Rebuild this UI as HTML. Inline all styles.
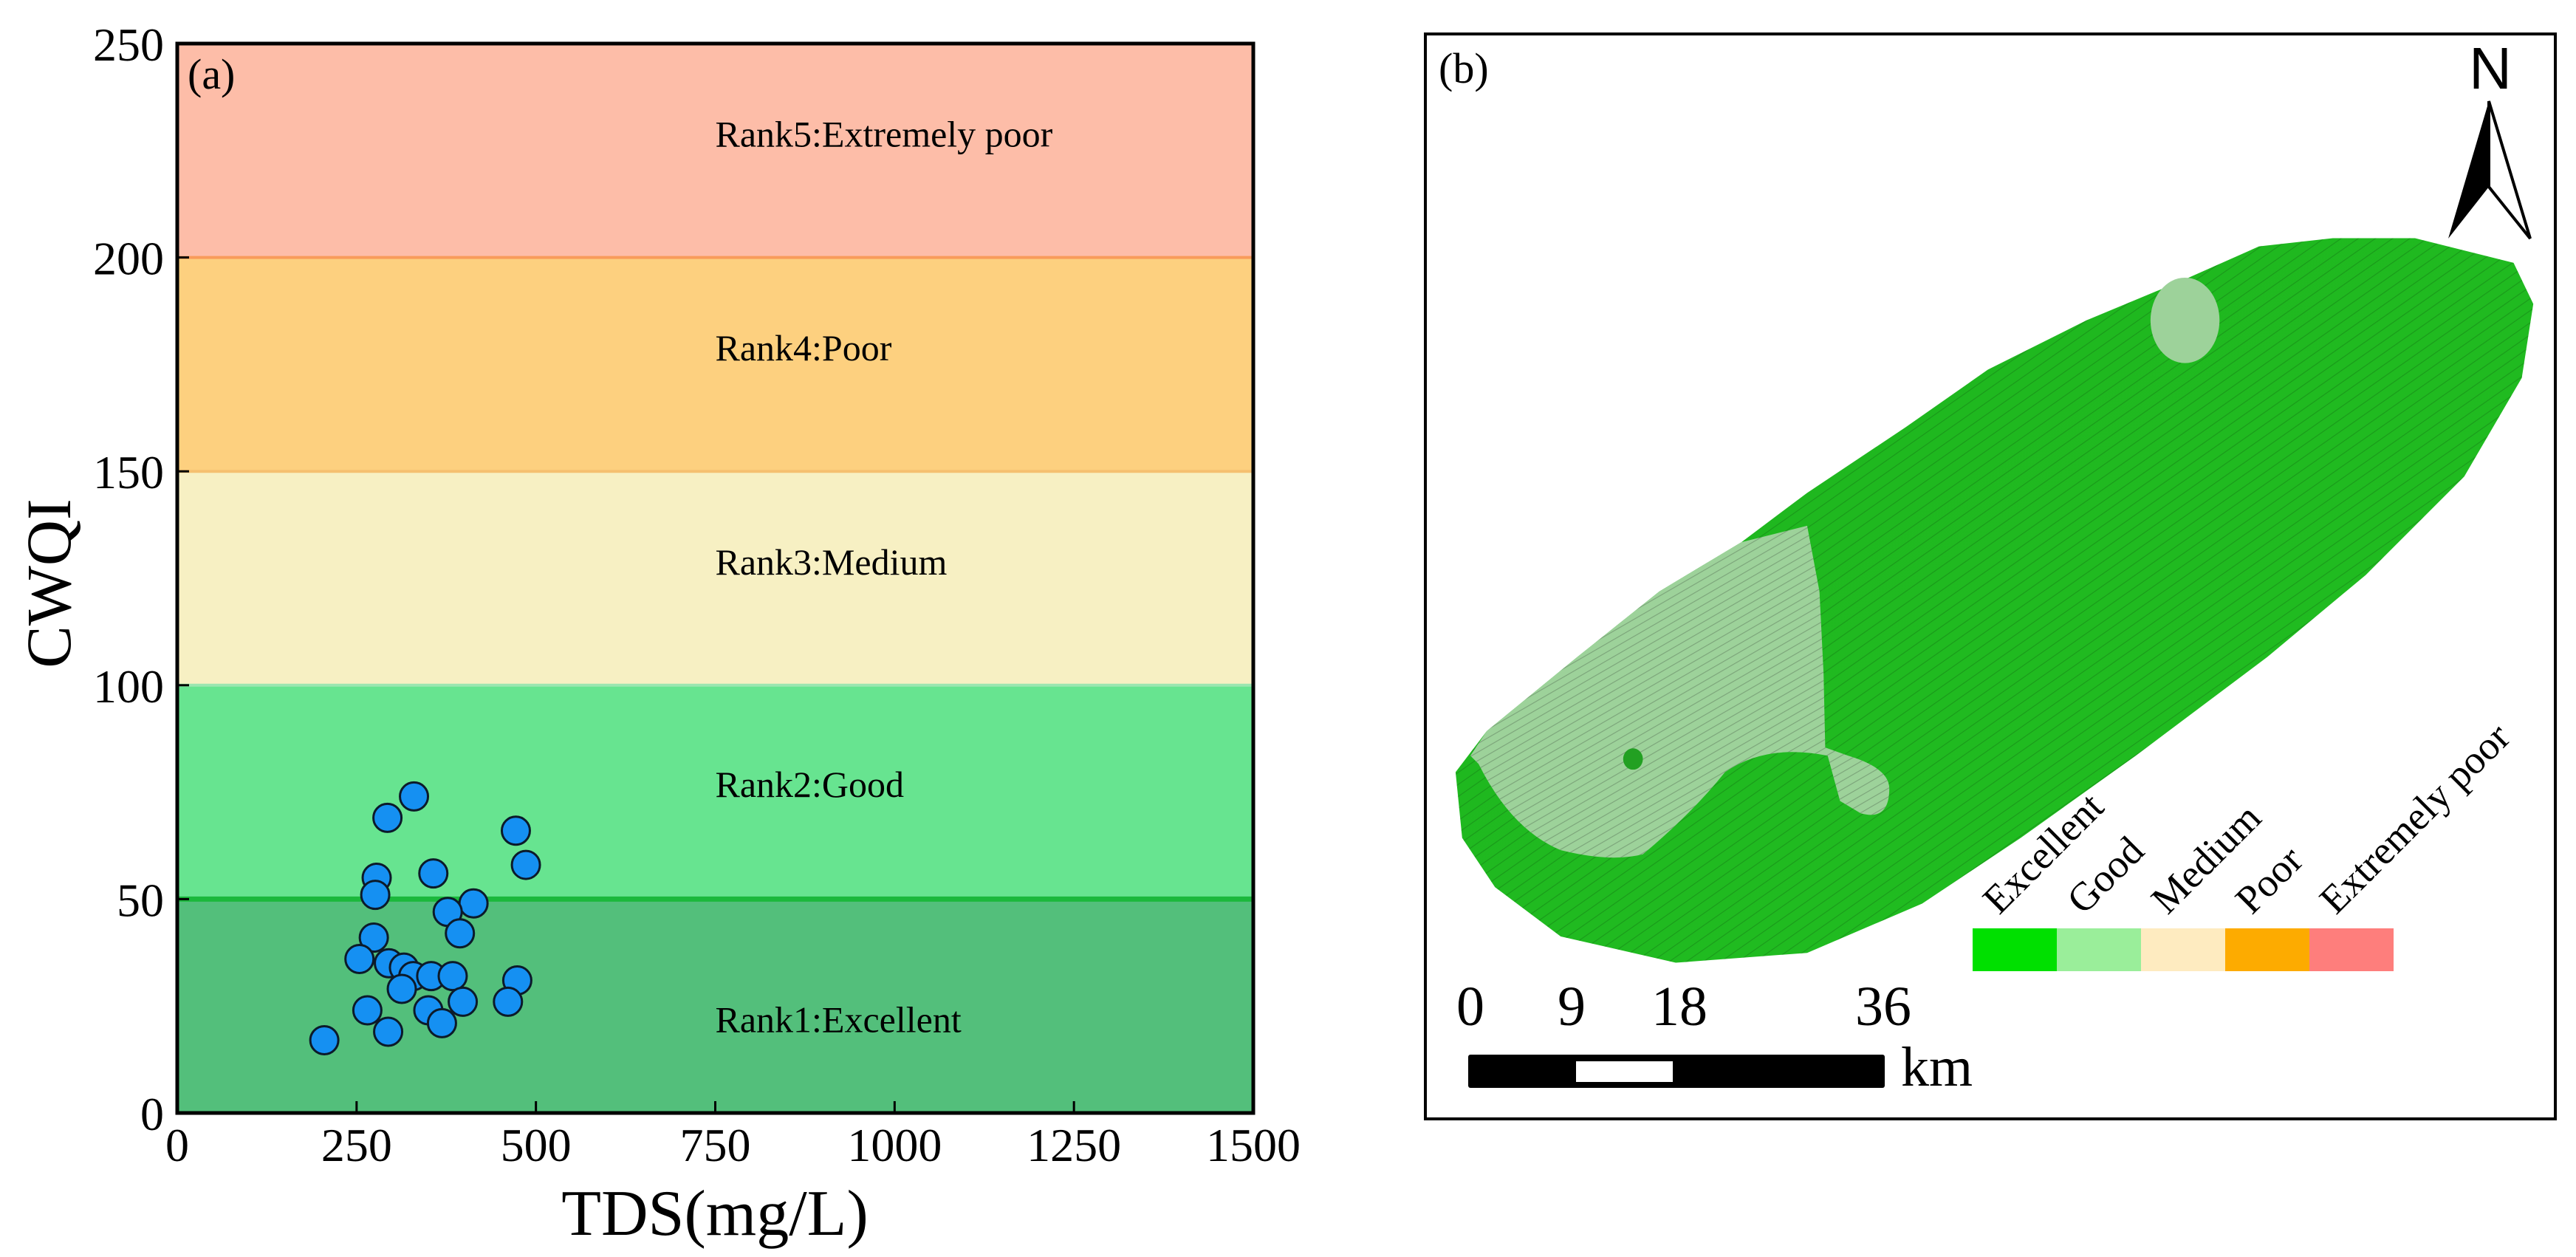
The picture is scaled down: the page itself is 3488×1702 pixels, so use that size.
<!DOCTYPE html>
<html><head><meta charset="utf-8"><style>
html,body{margin:0;padding:0;background:#fff;}
svg{display:block;font-family:"Liberation Serif",serif;}
</style></head><body>
<svg id="fig" width="3488" height="1702" viewBox="0 0 3488 1702" xmlns="http://www.w3.org/2000/svg">
<defs>
  <linearGradient id="mg" x1="0" y1="0" x2="1" y2="1">
    <stop offset="0" stop-color="#139a13"/><stop offset="0.35" stop-color="#1fb81f"/><stop offset="1" stop-color="#22bf22"/>
  </linearGradient>
  <pattern id="tex" width="12" height="12" patternUnits="userSpaceOnUse" patternTransform="rotate(-35)">
    <line x1="0" y1="0" x2="12" y2="0" stroke="#0a4a0a" stroke-width="2" opacity="0.3"/>
  </pattern>
  <pattern id="tex2" width="9" height="9" patternUnits="userSpaceOnUse" patternTransform="rotate(-30)">
    <line x1="0" y1="0" x2="9" y2="0" stroke="#3a4a3a" stroke-width="2" opacity="0.35"/>
  </pattern>
</defs>
<g id="chartA"></g>
<g id="mapB">
  <rect x="1930" y="46" width="1530" height="1469" fill="#fff" stroke="#000" stroke-width="4"/>
  <text x="1948" y="112" font-size="58">(b)</text>
  <g transform="scale(1.11225)">
    <path id="mapShape" fill="url(#mg)"
      d="M1772,940 L1810,890 L1920,800 L2020,720 L2120,660 L2200,600 L2320,520 L2420,450 L2540,390 L2660,340 L2750,300 L2840,290 L2940,290 L3060,320 L3084,370 L3070,460 L3000,580 L2880,700 L2760,800 L2600,920 L2460,1020 L2340,1100 L2200,1160 L2040,1172 L1900,1140 L1820,1080 L1780,1020 Z"/>
    <path d="M1772,940 L1810,890 L1920,800 L2020,720 L2120,660 L2200,600 L2320,520 L2420,450 L2540,390 L2660,340 L2750,300 L2840,290 L2940,290 L3060,320 L3084,370 L3070,460 L3000,580 L2880,700 L2760,800 L2600,920 L2460,1020 L2340,1100 L2200,1160 L2040,1172 L1900,1140 L1820,1080 L1780,1020 Z" fill="url(#tex)"/>
    <path fill="#9dd29a"
      d="M1790,920 L1810,890 L1920,800 L2020,720 L2120,660 L2200,640 L2215,720 L2220,820 L2222,910 L2250,920 Q2300,935 2300,960 Q2300,1000 2265,990 L2240,975 L2225,920 Q2150,905 2100,940 Q2060,990 2000,1040 Q1960,1050 1900,1035 Q1840,1010 1800,930 Z"/>
    <path d="M1790,920 L1810,890 L1920,800 L2020,720 L2120,660 L2200,640 L2215,720 L2220,820 L2222,910 L2250,920 Q2300,935 2300,960 Q2300,1000 2265,990 L2240,975 L2225,920 Q2150,905 2100,940 Q2060,990 2000,1040 Q1960,1050 1900,1035 Q1840,1010 1800,930 Z" fill="url(#tex2)"/>
    <ellipse cx="2660" cy="390" rx="42" ry="52" fill="#9dd29a"/>
    <ellipse cx="1988" cy="924" rx="12" ry="13" fill="#22a022"/>
  </g>
  <g>
    <text x="3372" y="120" font-family="Liberation Sans, sans-serif" font-size="80" text-anchor="middle">N</text>
    <polygon points="3370,137 3370,253 3315,323" fill="#000"/>
    <polygon points="3370,137 3370,253 3426,323" fill="#fff" stroke="#000" stroke-width="4"/>
  </g>
  <g id="legend"></g>
  <g font-size="76">
    <text x="1991" y="1388" text-anchor="middle">0</text>
    <text x="2128" y="1388" text-anchor="middle">9</text>
    <text x="2274" y="1388" text-anchor="middle">18</text>
    <text x="2550" y="1388" text-anchor="middle">36</text>
    <rect x="1988" y="1428" width="564" height="45" rx="3" fill="#000"/>
    <rect x="2134" y="1437" width="131" height="28" fill="#fff"/>
    <text x="2574" y="1470">km</text>
  </g>
</g>
</svg>
<script>
const NS='http://www.w3.org/2000/svg';
const tdsValues=[205,293,330,472,486,278,357,276,413,377,394,274,254,295,316,329,354,384,474,313,398,461,265,350,369,294];
const cwqiValues=[17,69,74,66,58,55,56,51,49,47,42,41,36,35,34,32,32,32,31,29,26,26,24,24,21,19];
const xTicks=[0,250,500,750,1000,1250,1500];
const yTicks=[0,50,100,150,200,250];
const bandBounds=[0,50,100,150,200,250];
const bandLabels=['Rank1:Excellent','Rank2:Good','Rank3:Medium','Rank4:Poor','Rank5:Extremely poor'];
const bandLabelY=[22,77,129,179,229];
const legendLabels=['Excellent','Good','Medium','Poor','Extremely poor'];

const L=240,R=1697,T=59,B=1507;
const sx=v=>L+(v-0)/(1500-0)*(R-L);
const sy=v=>B-(v-0)/(250-0)*(B-T);
function mk(tag,attrs,parent,text){const e=document.createElementNS(NS,tag);for(const k in attrs)e.setAttribute(k,attrs[k]);if(text!==undefined)e.textContent=text;parent.appendChild(e);return e;}
const g=document.getElementById('chartA');
const bandFill=['#53bf7b','#67e490','#f7f0c3','#fdd07f','#fdbda8'];
const lineCol=['#1bb83c','#9be6b0','#f5c070','#f89b5a'];
for(let i=0;i<5;i++){
  const r=mk('rect',{x:L,y:sy(bandBounds[i+1]),width:R-L,height:sy(bandBounds[i])-sy(bandBounds[i+1]),fill:bandFill[i]},g);
  
  
}
for(let i=1;i<5;i++){
  const ln=mk('line',{x1:L,x2:R,y1:sy(bandBounds[i]),y2:sy(bandBounds[i]),stroke:lineCol[i-1],'stroke-width':i===1?7:4},g);
  
  
}
for(let i=0;i<5;i++){
  const t=mk('text',{x:sx(750),y:sy(bandLabelY[i])+18,'font-size':50},g,bandLabels[i]);
  
  
}
for(let i=0;i<tdsValues.length;i++){
  const c=mk('circle',{cx:sx(tdsValues[i]),cy:sy(cwqiValues[i]),r:19,fill:'#1590f2',stroke:'#0c1a2a','stroke-width':3},g);
  
  
}
const fr=mk('rect',{x:L,y:T,width:R-L,height:B-T,fill:'none',stroke:'#000','stroke-width':5},g);


xTicks.forEach(v=>{
  mk('line',{x1:sx(v),x2:sx(v),y1:B,y2:B-16,stroke:'#000','stroke-width':3},g);
  const t=mk('text',{x:sx(v),y:1572,'font-size':64,'text-anchor':'middle'},g,String(v));
  
  
});
yTicks.forEach(v=>{
  mk('line',{x1:L,x2:L+16,y1:sy(v),y2:sy(v),stroke:'#000','stroke-width':3},g);
  const t=mk('text',{x:222,y:sy(v)+23,'font-size':64,'text-anchor':'end'},g,String(v));
  
  
});
const xt=mk('text',{x:968,y:1672,'font-size':88,'text-anchor':'middle'},g,'TDS(mg/L)');


const yt=mk('text',{x:0,y:0,'font-size':86,'text-anchor':'middle',transform:'translate(95,790) rotate(-90)'},g,'CWQI');


const pl=mk('text',{x:254,y:120,'font-size':58},g,'(a)');



const lg=document.getElementById('legend');
const legCol=['#00e000','#9aee9a','#feebc0','#fdab00','#fe7e7c'];
for(let i=0;i<5;i++){
  const x=2671+i*114;
  const r=mk('rect',{x:x,y:1257,width:114,height:58,fill:legCol[i]},lg);
  
  
  const t=mk('text',{x:0,y:0,'font-size':54,transform:'translate('+(x+36)+',1240) rotate(-45)'},lg,legendLabels[i]);
  
  
}
</script>
</body></html>
